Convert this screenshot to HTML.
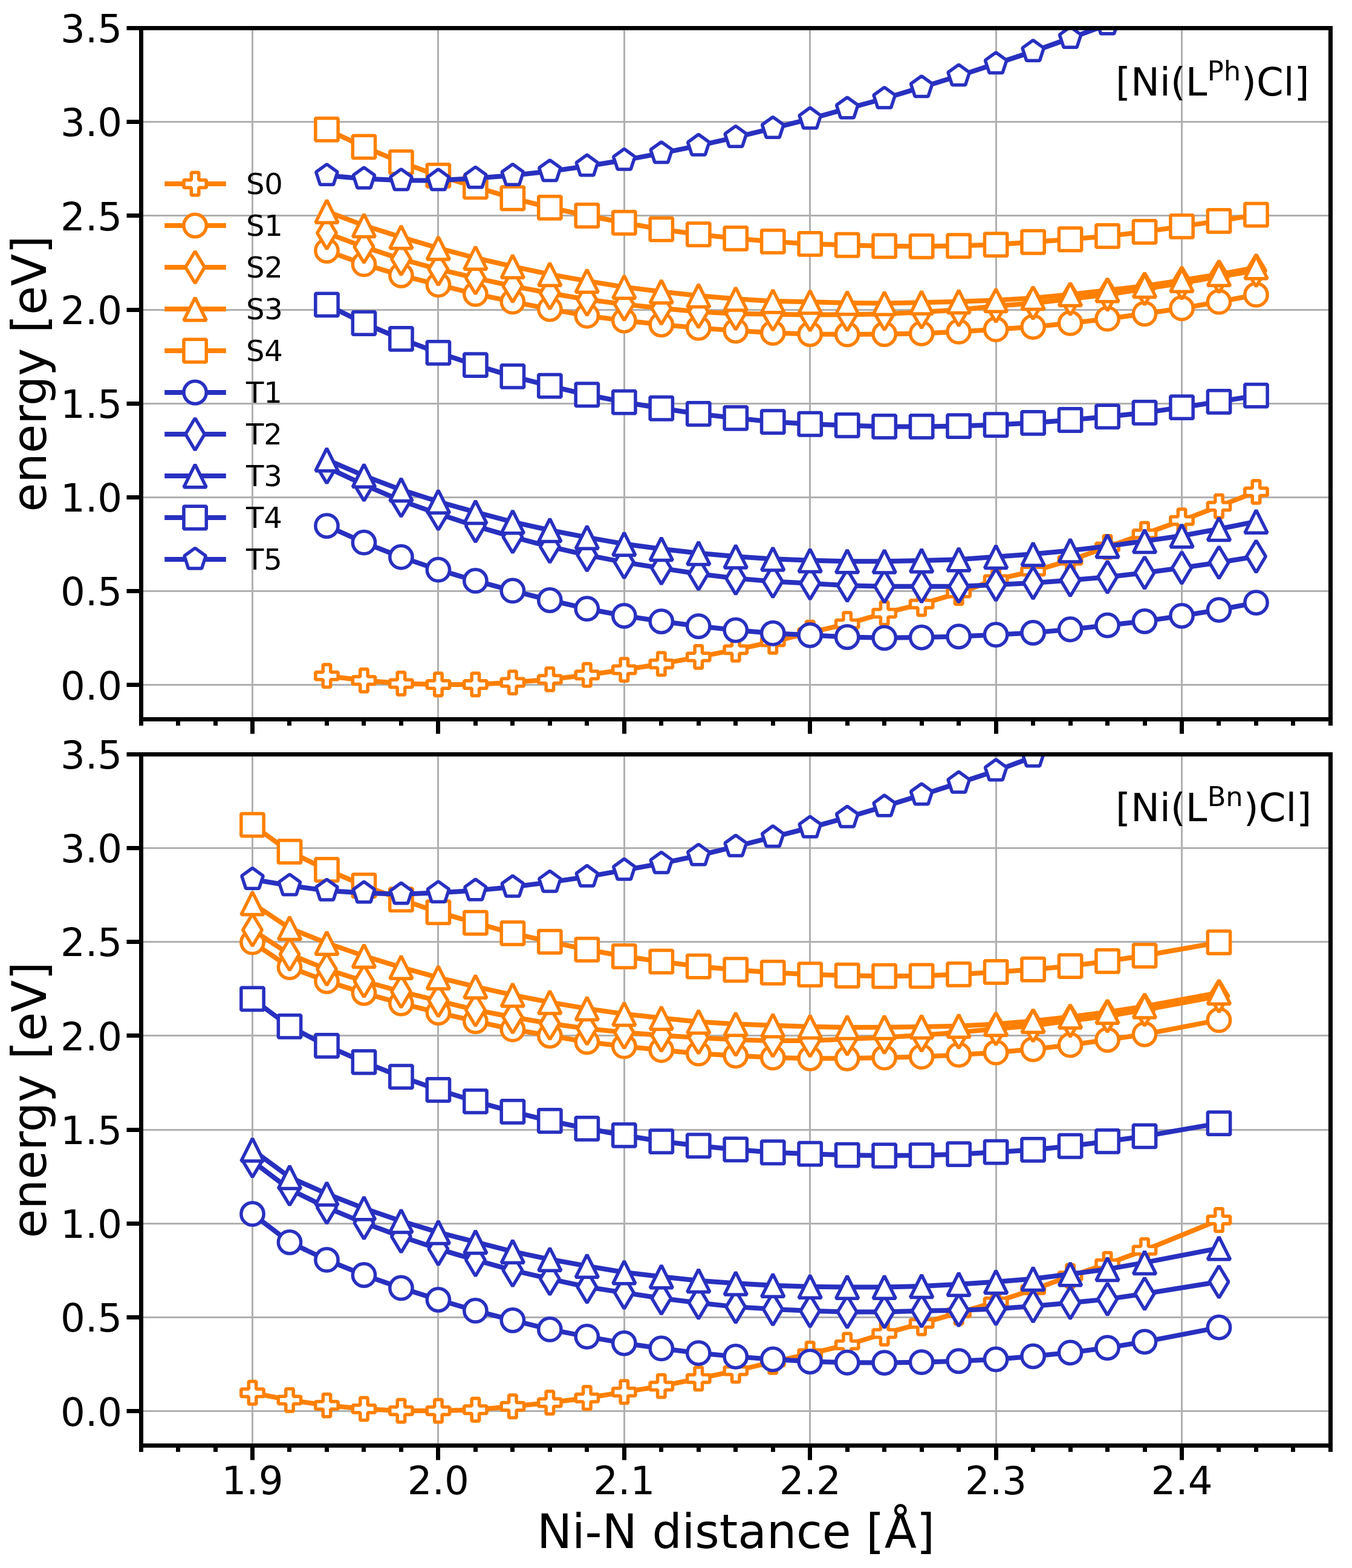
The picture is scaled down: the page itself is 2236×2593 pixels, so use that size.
<!DOCTYPE html>
<html><head><meta charset="utf-8"><title>Ni-N distance energy plot</title><style>html,body{margin:0;padding:0;background:#fff;}svg{display:block;}</style></head><body><svg width="2236" height="2593" viewBox="0 0 2236 2593"><rect x="0" y="0" width="2236" height="2593" fill="#fff"/><defs><clipPath id="clip_top"><rect x="233.5" y="46.5" width="1967" height="1143"/></clipPath><clipPath id="clip_bot"><rect x="233.5" y="1247.5" width="1967" height="1143"/></clipPath></defs><path clip-path="url(#clip_top)" stroke="#b0b0b0" stroke-width="3" fill="none" d="M417.5 46.5V1189.5M724.5 46.5V1189.5M1032.5 46.5V1189.5M1339.5 46.5V1189.5M1647.5 46.5V1189.5M1954.5 46.5V1189.5M233.5 1132.5H2200.5M233.5 977.5H2200.5M233.5 822.5H2200.5M233.5 667.5H2200.5M233.5 512.5H2200.5M233.5 356.5H2200.5M233.5 201.5H2200.5M233.5 46.5H2200.5"/><g clip-path="url(#clip_top)"><path fill="none" stroke="#ff8000" stroke-width="8" stroke-linejoin="round" stroke-linecap="square" d="M540.46 1117.66L601.94 1125.27L663.42 1130.36L724.9 1131.93L786.38 1131.93L847.86 1128.57L909.34 1123.45L970.82 1116.17L1032.3 1107.55L1093.78 1097.93L1155.26 1086.4L1216.74 1074.37L1278.22 1061.38L1339.7 1046.15L1401.18 1031.67L1462.66 1013.98L1524.14 998.87L1585.62 980.62L1647.1 958.34L1708.58 944.52L1770.06 926.61L1831.54 904.51L1893.02 882.87L1954.5 860.71L2015.98 837.24L2077.46 813.39"/><path fill="#fff" stroke="#ff8000" stroke-width="5.5" stroke-linejoin="bevel" d="M534.24 1099.01L546.68 1099.01L546.68 1111.44L559.11 1111.44L559.11 1123.87L546.68 1123.87L546.68 1136.31L534.24 1136.31L534.24 1123.87L521.81 1123.87L521.81 1111.44L534.24 1111.44ZM595.72 1106.62L608.16 1106.62L608.16 1119.05L620.59 1119.05L620.59 1131.48L608.16 1131.48L608.16 1143.92L595.72 1143.92L595.72 1131.48L583.29 1131.48L583.29 1119.05L595.72 1119.05ZM657.2 1111.71L669.64 1111.71L669.64 1124.14L682.07 1124.14L682.07 1136.58L669.64 1136.58L669.64 1149.01L657.2 1149.01L657.2 1136.58L644.77 1136.58L644.77 1124.14L657.2 1124.14ZM718.68 1113.28L731.12 1113.28L731.12 1125.71L743.55 1125.71L743.55 1138.14L731.12 1138.14L731.12 1150.58L718.68 1150.58L718.68 1138.14L706.25 1138.14L706.25 1125.71L718.68 1125.71ZM780.16 1113.28L792.6 1113.28L792.6 1125.71L805.03 1125.71L805.03 1138.14L792.6 1138.14L792.6 1150.58L780.16 1150.58L780.16 1138.14L767.73 1138.14L767.73 1125.71L780.16 1125.71ZM841.64 1109.92L854.08 1109.92L854.08 1122.35L866.51 1122.35L866.51 1134.79L854.08 1134.79L854.08 1147.22L841.64 1147.22L841.64 1134.79L829.21 1134.79L829.21 1122.35L841.64 1122.35ZM903.12 1104.8L915.56 1104.8L915.56 1117.23L927.99 1117.23L927.99 1129.66L915.56 1129.66L915.56 1142.1L903.12 1142.1L903.12 1129.66L890.69 1129.66L890.69 1117.23L903.12 1117.23ZM964.6 1097.52L977.04 1097.52L977.04 1109.96L989.47 1109.96L989.47 1122.39L977.04 1122.39L977.04 1134.82L964.6 1134.82L964.6 1122.39L952.17 1122.39L952.17 1109.96L964.6 1109.96ZM1026.08 1088.9L1038.52 1088.9L1038.52 1101.34L1050.95 1101.34L1050.95 1113.77L1038.52 1113.77L1038.52 1126.2L1026.08 1126.2L1026.08 1113.77L1013.65 1113.77L1013.65 1101.34L1026.08 1101.34ZM1087.56 1079.28L1100 1079.28L1100 1091.71L1112.43 1091.71L1112.43 1104.15L1100 1104.15L1100 1116.58L1087.56 1116.58L1087.56 1104.15L1075.13 1104.15L1075.13 1091.71L1087.56 1091.71ZM1149.04 1067.75L1161.48 1067.75L1161.48 1080.19L1173.91 1080.19L1173.91 1092.62L1161.48 1092.62L1161.48 1105.05L1149.04 1105.05L1149.04 1092.62L1136.61 1092.62L1136.61 1080.19L1149.04 1080.19ZM1210.52 1055.72L1222.96 1055.72L1222.96 1068.15L1235.39 1068.15L1235.39 1080.58L1222.96 1080.58L1222.96 1093.02L1210.52 1093.02L1210.52 1080.58L1198.09 1080.58L1198.09 1068.15L1210.52 1068.15ZM1272 1042.73L1284.44 1042.73L1284.44 1055.17L1296.87 1055.17L1296.87 1067.6L1284.44 1067.6L1284.44 1080.03L1272 1080.03L1272 1067.6L1259.57 1067.6L1259.57 1055.17L1272 1055.17ZM1333.48 1027.5L1345.92 1027.5L1345.92 1039.93L1358.35 1039.93L1358.35 1052.36L1345.92 1052.36L1345.92 1064.8L1333.48 1064.8L1333.48 1052.36L1321.05 1052.36L1321.05 1039.93L1333.48 1039.93ZM1394.96 1013.02L1407.4 1013.02L1407.4 1025.45L1419.83 1025.45L1419.83 1037.88L1407.4 1037.88L1407.4 1050.32L1394.96 1050.32L1394.96 1037.88L1382.53 1037.88L1382.53 1025.45L1394.96 1025.45ZM1456.44 995.33L1468.88 995.33L1468.88 1007.76L1481.31 1007.76L1481.31 1020.2L1468.88 1020.2L1468.88 1032.63L1456.44 1032.63L1456.44 1020.2L1444.01 1020.2L1444.01 1007.76L1456.44 1007.76ZM1517.92 980.22L1530.36 980.22L1530.36 992.65L1542.79 992.65L1542.79 1005.08L1530.36 1005.08L1530.36 1017.52L1517.92 1017.52L1517.92 1005.08L1505.49 1005.08L1505.49 992.65L1517.92 992.65ZM1579.4 961.97L1591.84 961.97L1591.84 974.41L1604.27 974.41L1604.27 986.84L1591.84 986.84L1591.84 999.27L1579.4 999.27L1579.4 986.84L1566.97 986.84L1566.97 974.41L1579.4 974.41ZM1640.88 939.69L1653.32 939.69L1653.32 952.13L1665.75 952.13L1665.75 964.56L1653.32 964.56L1653.32 976.99L1640.88 976.99L1640.88 964.56L1628.45 964.56L1628.45 952.13L1640.88 952.13ZM1702.36 925.87L1714.8 925.87L1714.8 938.3L1727.23 938.3L1727.23 950.74L1714.8 950.74L1714.8 963.17L1702.36 963.17L1702.36 950.74L1689.93 950.74L1689.93 938.3L1702.36 938.3ZM1763.84 907.96L1776.28 907.96L1776.28 920.4L1788.71 920.4L1788.71 932.83L1776.28 932.83L1776.28 945.26L1763.84 945.26L1763.84 932.83L1751.41 932.83L1751.41 920.4L1763.84 920.4ZM1825.32 885.86L1837.76 885.86L1837.76 898.3L1850.19 898.3L1850.19 910.73L1837.76 910.73L1837.76 923.16L1825.32 923.16L1825.32 910.73L1812.89 910.73L1812.89 898.3L1825.32 898.3ZM1886.8 864.22L1899.24 864.22L1899.24 876.66L1911.67 876.66L1911.67 889.09L1899.24 889.09L1899.24 901.52L1886.8 901.52L1886.8 889.09L1874.37 889.09L1874.37 876.66L1886.8 876.66ZM1948.28 842.06L1960.72 842.06L1960.72 854.5L1973.15 854.5L1973.15 866.93L1960.72 866.93L1960.72 879.36L1948.28 879.36L1948.28 866.93L1935.85 866.93L1935.85 854.5L1948.28 854.5ZM2009.76 818.59L2022.2 818.59L2022.2 831.02L2034.63 831.02L2034.63 843.45L2022.2 843.45L2022.2 855.89L2009.76 855.89L2009.76 843.45L1997.33 843.45L1997.33 831.02L2009.76 831.02ZM2071.24 794.74L2083.68 794.74L2083.68 807.17L2096.11 807.17L2096.11 819.6L2083.68 819.6L2083.68 832.04L2071.24 832.04L2071.24 819.6L2058.81 819.6L2058.81 807.17L2071.24 807.17Z"/><path fill="none" stroke="#ff8000" stroke-width="8" stroke-linejoin="round" stroke-linecap="square" d="M540.46 414.57L601.94 436.95L663.42 455.3L724.9 470.97L786.38 486.19L847.86 498.95L909.34 511.05L970.82 522.24L1032.3 530.07L1093.78 536.79L1155.26 542.38L1216.74 546.86L1278.22 550.46L1339.7 552.5L1401.18 552.95L1462.66 552.5L1524.14 551.38L1585.62 548.47L1647.1 544.65L1708.58 540.6L1770.06 534.45L1831.54 527.17L1893.02 518.79L1954.5 509.73L2015.98 499.21L2077.46 487.47"/><g fill="#fff" stroke="#ff8000" stroke-width="5.5"><circle cx="540.46" cy="414.57" r="18.65"/><circle cx="601.94" cy="436.95" r="18.65"/><circle cx="663.42" cy="455.3" r="18.65"/><circle cx="724.9" cy="470.97" r="18.65"/><circle cx="786.38" cy="486.19" r="18.65"/><circle cx="847.86" cy="498.95" r="18.65"/><circle cx="909.34" cy="511.05" r="18.65"/><circle cx="970.82" cy="522.24" r="18.65"/><circle cx="1032.3" cy="530.07" r="18.65"/><circle cx="1093.78" cy="536.79" r="18.65"/><circle cx="1155.26" cy="542.38" r="18.65"/><circle cx="1216.74" cy="546.86" r="18.65"/><circle cx="1278.22" cy="550.46" r="18.65"/><circle cx="1339.7" cy="552.5" r="18.65"/><circle cx="1401.18" cy="552.95" r="18.65"/><circle cx="1462.66" cy="552.5" r="18.65"/><circle cx="1524.14" cy="551.38" r="18.65"/><circle cx="1585.62" cy="548.47" r="18.65"/><circle cx="1647.1" cy="544.65" r="18.65"/><circle cx="1708.58" cy="540.6" r="18.65"/><circle cx="1770.06" cy="534.45" r="18.65"/><circle cx="1831.54" cy="527.17" r="18.65"/><circle cx="1893.02" cy="518.79" r="18.65"/><circle cx="1954.5" cy="509.73" r="18.65"/><circle cx="2015.98" cy="499.21" r="18.65"/><circle cx="2077.46" cy="487.47" r="18.65"/></g><path fill="none" stroke="#ff8000" stroke-width="8" stroke-linejoin="round" stroke-linecap="square" d="M540.46 385.38L601.94 408.21L663.42 428.36L724.9 445.15L786.38 459.7L847.86 473.13L909.34 484.77L970.82 495.29L1032.3 503.13L1093.78 509.84L1155.26 515.44L1216.74 518.8L1278.22 519.7L1339.7 520.6L1401.18 520.37L1462.66 519.25L1524.14 516.12L1585.62 512.43L1647.1 506.15L1708.58 501.22L1770.06 494.51L1831.54 487.12L1893.02 477.68L1954.5 468.16L2015.98 457.49L2077.46 447.41"/><path fill="#fff" stroke="#ff8000" stroke-width="5.5" stroke-linejoin="bevel" d="M540.46 359.01L556.29 385.38L540.46 411.76L524.63 385.38ZM601.94 381.84L617.77 408.21L601.94 434.59L586.11 408.21ZM663.42 401.98L679.25 428.36L663.42 454.73L647.59 428.36ZM724.9 418.77L740.73 445.15L724.9 471.52L709.07 445.15ZM786.38 433.32L802.21 459.7L786.38 486.07L770.55 459.7ZM847.86 446.75L863.69 473.13L847.86 499.5L832.03 473.13ZM909.34 458.4L925.17 484.77L909.34 511.15L893.51 484.77ZM970.82 468.92L986.65 495.29L970.82 521.67L954.99 495.29ZM1032.3 476.75L1048.13 503.13L1032.3 529.5L1016.47 503.13ZM1093.78 483.47L1109.61 509.84L1093.78 536.22L1077.95 509.84ZM1155.26 489.06L1171.09 515.44L1155.26 541.81L1139.43 515.44ZM1216.74 492.42L1232.57 518.8L1216.74 545.17L1200.91 518.8ZM1278.22 493.33L1294.05 519.7L1278.22 546.08L1262.39 519.7ZM1339.7 494.22L1355.53 520.6L1339.7 546.97L1323.87 520.6ZM1401.18 494L1417.01 520.37L1401.18 546.75L1385.35 520.37ZM1462.66 492.88L1478.49 519.25L1462.66 545.63L1446.83 519.25ZM1524.14 489.75L1539.97 516.12L1524.14 542.5L1508.31 516.12ZM1585.62 486.05L1601.45 512.43L1585.62 538.8L1569.79 512.43ZM1647.1 479.77L1662.93 506.15L1647.1 532.52L1631.27 506.15ZM1708.58 474.85L1724.41 501.22L1708.58 527.6L1692.75 501.22ZM1770.06 468.13L1785.89 494.51L1770.06 520.88L1754.23 494.51ZM1831.54 460.75L1847.37 487.12L1831.54 513.5L1815.71 487.12ZM1893.02 451.3L1908.85 477.68L1893.02 504.05L1877.19 477.68ZM1954.5 441.79L1970.33 468.16L1954.5 494.54L1938.67 468.16ZM2015.98 431.11L2031.81 457.49L2015.98 483.86L2000.15 457.49ZM2077.46 421.04L2093.29 447.41L2077.46 473.79L2061.63 447.41Z"/><path fill="none" stroke="#ff8000" stroke-width="8" stroke-linejoin="round" stroke-linecap="square" d="M540.46 349.62L601.94 372.79L663.42 392.15L724.9 410.28L786.38 426.51L847.86 440.72L909.34 453.71L970.82 464.68L1032.3 474.64L1093.78 482.25L1155.26 488.97L1216.74 494.34L1278.22 498.08L1339.7 499.31L1401.18 500.99L1462.66 501.55L1524.14 500.32L1585.62 498.75L1647.1 496.6L1708.58 492.88L1770.06 486.95L1831.54 480.01L1893.02 472.92L1954.5 463.57L2015.98 453.72L2077.46 442.21"/><path fill="#fff" stroke="#ff8000" stroke-width="5.5" stroke-linejoin="bevel" d="M540.46 330.97L559.11 368.27L521.81 368.27ZM601.94 354.14L620.59 391.44L583.29 391.44ZM663.42 373.5L682.07 410.8L644.77 410.8ZM724.9 391.63L743.55 428.93L706.25 428.93ZM786.38 407.86L805.03 445.16L767.73 445.16ZM847.86 422.07L866.51 459.37L829.21 459.37ZM909.34 435.06L927.99 472.36L890.69 472.36ZM970.82 446.03L989.47 483.33L952.17 483.33ZM1032.3 455.99L1050.95 493.29L1013.65 493.29ZM1093.78 463.6L1112.43 500.9L1075.13 500.9ZM1155.26 470.32L1173.91 507.62L1136.61 507.62ZM1216.74 475.69L1235.39 512.99L1198.09 512.99ZM1278.22 479.43L1296.87 516.73L1259.57 516.73ZM1339.7 480.66L1358.35 517.96L1321.05 517.96ZM1401.18 482.34L1419.83 519.64L1382.53 519.64ZM1462.66 482.9L1481.31 520.2L1444.01 520.2ZM1524.14 481.67L1542.79 518.97L1505.49 518.97ZM1585.62 480.1L1604.27 517.4L1566.97 517.4ZM1647.1 477.95L1665.75 515.25L1628.45 515.25ZM1708.58 474.23L1727.23 511.53L1689.93 511.53ZM1770.06 468.3L1788.71 505.6L1751.41 505.6ZM1831.54 461.36L1850.19 498.66L1812.89 498.66ZM1893.02 454.27L1911.67 491.57L1874.37 491.57ZM1954.5 444.92L1973.15 482.22L1935.85 482.22ZM2015.98 435.07L2034.63 472.37L1997.33 472.37ZM2077.46 423.56L2096.11 460.86L2058.81 460.86Z"/><path fill="none" stroke="#ff8000" stroke-width="8" stroke-linejoin="round" stroke-linecap="square" d="M540.46 214.13L601.94 242.89L663.42 268.3L724.9 290.46L786.38 308.93L847.86 327.73L909.34 343.4L970.82 356.5L1032.3 368.36L1093.78 379.22L1155.26 387.61L1216.74 394.33L1278.22 399.41L1339.7 403.37L1401.18 405.27L1462.66 406.95L1524.14 407.29L1585.62 406.61L1647.1 404.54L1708.58 400.23L1770.06 395.75L1831.54 390.38L1893.02 383.41L1954.5 374.35L2015.98 365.39L2077.46 355.18"/><path fill="#fff" stroke="#ff8000" stroke-width="5.5" stroke-linejoin="bevel" d="M521.81 195.48L559.11 195.48L559.11 232.78L521.81 232.78ZM583.29 224.24L620.59 224.24L620.59 261.54L583.29 261.54ZM644.77 249.65L682.07 249.65L682.07 286.95L644.77 286.95ZM706.25 271.81L743.55 271.81L743.55 309.11L706.25 309.11ZM767.73 290.28L805.03 290.28L805.03 327.58L767.73 327.58ZM829.21 309.08L866.51 309.08L866.51 346.38L829.21 346.38ZM890.69 324.75L927.99 324.75L927.99 362.05L890.69 362.05ZM952.17 337.85L989.47 337.85L989.47 375.15L952.17 375.15ZM1013.65 349.71L1050.95 349.71L1050.95 387.01L1013.65 387.01ZM1075.13 360.57L1112.43 360.57L1112.43 397.87L1075.13 397.87ZM1136.61 368.96L1173.91 368.96L1173.91 406.26L1136.61 406.26ZM1198.09 375.68L1235.39 375.68L1235.39 412.98L1198.09 412.98ZM1259.57 380.76L1296.87 380.76L1296.87 418.06L1259.57 418.06ZM1321.05 384.72L1358.35 384.72L1358.35 422.02L1321.05 422.02ZM1382.53 386.62L1419.83 386.62L1419.83 423.92L1382.53 423.92ZM1444.01 388.3L1481.31 388.3L1481.31 425.6L1444.01 425.6ZM1505.49 388.64L1542.79 388.64L1542.79 425.94L1505.49 425.94ZM1566.97 387.96L1604.27 387.96L1604.27 425.26L1566.97 425.26ZM1628.45 385.89L1665.75 385.89L1665.75 423.19L1628.45 423.19ZM1689.93 381.58L1727.23 381.58L1727.23 418.88L1689.93 418.88ZM1751.41 377.1L1788.71 377.1L1788.71 414.4L1751.41 414.4ZM1812.89 371.73L1850.19 371.73L1850.19 409.03L1812.89 409.03ZM1874.37 364.76L1911.67 364.76L1911.67 402.06L1874.37 402.06ZM1935.85 355.7L1973.15 355.7L1973.15 393L1935.85 393ZM1997.33 346.74L2034.63 346.74L2034.63 384.04L1997.33 384.04ZM2058.81 336.53L2096.11 336.53L2096.11 373.83L2058.81 373.83Z"/><path fill="none" stroke="#2830c0" stroke-width="8" stroke-linejoin="round" stroke-linecap="square" d="M540.46 869.53L601.94 897.17L663.42 921.24L724.9 942.17L786.38 960.41L847.86 976.97L909.34 992.5L970.82 1006.72L1032.3 1018.35L1093.78 1027.53L1155.26 1035.59L1216.74 1042.08L1278.22 1047.23L1339.7 1050.36L1401.18 1053.5L1462.66 1054.84L1524.14 1054.06L1585.62 1052.6L1647.1 1049.65L1708.58 1046.37L1770.06 1040.77L1831.54 1034.06L1893.02 1027.3L1954.5 1018.35L2015.98 1008.56L2077.46 996.6"/><g fill="#fff" stroke="#2830c0" stroke-width="5.5"><circle cx="540.46" cy="869.53" r="18.65"/><circle cx="601.94" cy="897.17" r="18.65"/><circle cx="663.42" cy="921.24" r="18.65"/><circle cx="724.9" cy="942.17" r="18.65"/><circle cx="786.38" cy="960.41" r="18.65"/><circle cx="847.86" cy="976.97" r="18.65"/><circle cx="909.34" cy="992.5" r="18.65"/><circle cx="970.82" cy="1006.72" r="18.65"/><circle cx="1032.3" cy="1018.35" r="18.65"/><circle cx="1093.78" cy="1027.53" r="18.65"/><circle cx="1155.26" cy="1035.59" r="18.65"/><circle cx="1216.74" cy="1042.08" r="18.65"/><circle cx="1278.22" cy="1047.23" r="18.65"/><circle cx="1339.7" cy="1050.36" r="18.65"/><circle cx="1401.18" cy="1053.5" r="18.65"/><circle cx="1462.66" cy="1054.84" r="18.65"/><circle cx="1524.14" cy="1054.06" r="18.65"/><circle cx="1585.62" cy="1052.6" r="18.65"/><circle cx="1647.1" cy="1049.65" r="18.65"/><circle cx="1708.58" cy="1046.37" r="18.65"/><circle cx="1770.06" cy="1040.77" r="18.65"/><circle cx="1831.54" cy="1034.06" r="18.65"/><circle cx="1893.02" cy="1027.3" r="18.65"/><circle cx="1954.5" cy="1018.35" r="18.65"/><circle cx="2015.98" cy="1008.56" r="18.65"/><circle cx="2077.46" cy="996.6" r="18.65"/></g><path fill="none" stroke="#2830c0" stroke-width="8" stroke-linejoin="round" stroke-linecap="square" d="M540.46 772.74L601.94 801.61L663.42 828.02L724.9 849.74L786.38 869.88L847.86 887.79L909.34 904.01L970.82 917.88L1032.3 929.75L1093.78 939.6L1155.26 949L1216.74 956.37L1278.22 961.52L1339.7 964.65L1401.18 968.23L1462.66 969.8L1524.14 969.8L1585.62 969.8L1647.1 966.96L1708.58 963.9L1770.06 959.42L1831.54 954.27L1893.02 947.3L1954.5 939.01L2015.98 930.28L2077.46 920.17"/><path fill="#fff" stroke="#2830c0" stroke-width="5.5" stroke-linejoin="bevel" d="M540.46 746.36L556.29 772.74L540.46 799.11L524.63 772.74ZM601.94 775.24L617.77 801.61L601.94 827.99L586.11 801.61ZM663.42 801.65L679.25 828.02L663.42 854.4L647.59 828.02ZM724.9 823.36L740.73 849.74L724.9 876.11L709.07 849.74ZM786.38 843.51L802.21 869.88L786.38 896.26L770.55 869.88ZM847.86 861.41L863.69 887.79L847.86 914.16L832.03 887.79ZM909.34 877.63L925.17 904.01L909.34 930.38L893.51 904.01ZM970.82 891.51L986.65 917.88L970.82 944.26L954.99 917.88ZM1032.3 903.37L1048.13 929.75L1032.3 956.12L1016.47 929.75ZM1093.78 913.22L1109.61 939.6L1093.78 965.97L1077.95 939.6ZM1155.26 922.62L1171.09 949L1155.26 975.37L1139.43 949ZM1216.74 929.99L1232.57 956.37L1216.74 982.74L1200.91 956.37ZM1278.22 935.14L1294.05 961.52L1278.22 987.89L1262.39 961.52ZM1339.7 938.27L1355.53 964.65L1339.7 991.02L1323.87 964.65ZM1401.18 941.86L1417.01 968.23L1401.18 994.61L1385.35 968.23ZM1462.66 943.42L1478.49 969.8L1462.66 996.17L1446.83 969.8ZM1524.14 943.42L1539.97 969.8L1524.14 996.17L1508.31 969.8ZM1585.62 943.42L1601.45 969.8L1585.62 996.17L1569.79 969.8ZM1647.1 940.59L1662.93 966.96L1647.1 993.34L1631.27 966.96ZM1708.58 937.52L1724.41 963.9L1708.58 990.27L1692.75 963.9ZM1770.06 933.05L1785.89 959.42L1770.06 985.8L1754.23 959.42ZM1831.54 927.9L1847.37 954.27L1831.54 980.65L1815.71 954.27ZM1893.02 920.92L1908.85 947.3L1893.02 973.67L1877.19 947.3ZM1954.5 912.64L1970.33 939.01L1954.5 965.39L1938.67 939.01ZM2015.98 903.91L2031.81 930.28L2015.98 956.66L2000.15 930.28ZM2077.46 893.8L2093.29 920.17L2077.46 946.55L2061.63 920.17Z"/><path fill="none" stroke="#2830c0" stroke-width="8" stroke-linejoin="round" stroke-linecap="square" d="M540.46 760.14L601.94 786.69L663.42 809.92L724.9 829.53L786.38 846.88L847.86 863.11L909.34 876.75L970.82 888.56L1032.3 899.58L1093.78 907.81L1155.26 914.8L1216.74 920.34L1278.22 924.3L1339.7 926.76L1401.18 928.22L1462.66 928.33L1524.14 926.99L1585.62 925.2L1647.1 920.85L1708.58 916.28L1770.06 910.46L1831.54 903.18L1893.02 894.8L1954.5 886.02L2015.98 874.77L2077.46 862.48"/><path fill="#fff" stroke="#2830c0" stroke-width="5.5" stroke-linejoin="bevel" d="M540.46 741.49L559.11 778.79L521.81 778.79ZM601.94 768.04L620.59 805.34L583.29 805.34ZM663.42 791.27L682.07 828.57L644.77 828.57ZM724.9 810.88L743.55 848.18L706.25 848.18ZM786.38 828.23L805.03 865.53L767.73 865.53ZM847.86 844.46L866.51 881.76L829.21 881.76ZM909.34 858.1L927.99 895.4L890.69 895.4ZM970.82 869.91L989.47 907.21L952.17 907.21ZM1032.3 880.93L1050.95 918.23L1013.65 918.23ZM1093.78 889.16L1112.43 926.46L1075.13 926.46ZM1155.26 896.15L1173.91 933.45L1136.61 933.45ZM1216.74 901.69L1235.39 938.99L1198.09 938.99ZM1278.22 905.65L1296.87 942.95L1259.57 942.95ZM1339.7 908.11L1358.35 945.41L1321.05 945.41ZM1401.18 909.57L1419.83 946.87L1382.53 946.87ZM1462.66 909.68L1481.31 946.98L1444.01 946.98ZM1524.14 908.34L1542.79 945.64L1505.49 945.64ZM1585.62 906.55L1604.27 943.85L1566.97 943.85ZM1647.1 902.2L1665.75 939.5L1628.45 939.5ZM1708.58 897.63L1727.23 934.93L1689.93 934.93ZM1770.06 891.81L1788.71 929.11L1751.41 929.11ZM1831.54 884.53L1850.19 921.83L1812.89 921.83ZM1893.02 876.15L1911.67 913.45L1874.37 913.45ZM1954.5 867.37L1973.15 904.67L1935.85 904.67ZM2015.98 856.12L2034.63 893.42L1997.33 893.42ZM2077.46 843.83L2096.11 881.13L2058.81 881.13Z"/><path fill="none" stroke="#2830c0" stroke-width="8" stroke-linejoin="round" stroke-linecap="square" d="M540.46 503.95L601.94 534.5L663.42 560.46L724.9 583.3L786.38 603.67L847.86 622.36L909.34 638.2L970.82 652.75L1032.3 665.06L1093.78 675.24L1155.26 684.42L1216.74 691.36L1278.22 697.57L1339.7 701.25L1401.18 703.38L1462.66 705.39L1524.14 705.39L1585.62 704.61L1647.1 702.57L1708.58 699.31L1770.06 694.49L1831.54 688.9L1893.02 682.41L1954.5 673.69L2015.98 664.29L2077.46 654.22"/><path fill="#fff" stroke="#2830c0" stroke-width="5.5" stroke-linejoin="bevel" d="M521.81 485.3L559.11 485.3L559.11 522.6L521.81 522.6ZM583.29 515.85L620.59 515.85L620.59 553.15L583.29 553.15ZM644.77 541.81L682.07 541.81L682.07 579.11L644.77 579.11ZM706.25 564.65L743.55 564.65L743.55 601.95L706.25 601.95ZM767.73 585.02L805.03 585.02L805.03 622.32L767.73 622.32ZM829.21 603.71L866.51 603.71L866.51 641.01L829.21 641.01ZM890.69 619.55L927.99 619.55L927.99 656.85L890.69 656.85ZM952.17 634.1L989.47 634.1L989.47 671.4L952.17 671.4ZM1013.65 646.41L1050.95 646.41L1050.95 683.71L1013.65 683.71ZM1075.13 656.59L1112.43 656.59L1112.43 693.89L1075.13 693.89ZM1136.61 665.77L1173.91 665.77L1173.91 703.07L1136.61 703.07ZM1198.09 672.71L1235.39 672.71L1235.39 710.01L1198.09 710.01ZM1259.57 678.92L1296.87 678.92L1296.87 716.22L1259.57 716.22ZM1321.05 682.6L1358.35 682.6L1358.35 719.9L1321.05 719.9ZM1382.53 684.73L1419.83 684.73L1419.83 722.03L1382.53 722.03ZM1444.01 686.74L1481.31 686.74L1481.31 724.04L1444.01 724.04ZM1505.49 686.74L1542.79 686.74L1542.79 724.04L1505.49 724.04ZM1566.97 685.96L1604.27 685.96L1604.27 723.26L1566.97 723.26ZM1628.45 683.92L1665.75 683.92L1665.75 721.22L1628.45 721.22ZM1689.93 680.66L1727.23 680.66L1727.23 717.96L1689.93 717.96ZM1751.41 675.84L1788.71 675.84L1788.71 713.14L1751.41 713.14ZM1812.89 670.25L1850.19 670.25L1850.19 707.55L1812.89 707.55ZM1874.37 663.76L1911.67 663.76L1911.67 701.06L1874.37 701.06ZM1935.85 655.04L1973.15 655.04L1973.15 692.34L1935.85 692.34ZM1997.33 645.64L2034.63 645.64L2034.63 682.94L1997.33 682.94ZM2058.81 635.57L2096.11 635.57L2096.11 672.87L2058.81 672.87Z"/><path fill="none" stroke="#2830c0" stroke-width="8" stroke-linejoin="round" stroke-linecap="square" d="M540.46 290.28L601.94 295.54L663.42 298.34L724.9 298.45L786.38 294.76L847.86 290.06L909.34 283.35L970.82 274.73L1032.3 264.88L1093.78 253.35L1155.26 240.93L1216.74 227.05L1278.22 212.08L1339.7 196.7L1401.18 179.57L1462.66 163.01L1524.14 144.32L1585.62 125.52L1647.1 105.41L1708.58 85.11L1770.06 63.14L1831.54 40.75L1893.02 17.96L1954.5 -5.25L2015.98 -28.86L2077.46 -52.88"/><path fill="#fff" stroke="#2830c0" stroke-width="5.5" stroke-linejoin="bevel" d="M540.46 271.63L522.72 284.52L529.5 305.37L551.42 305.37L558.2 284.52ZM601.94 276.89L584.2 289.78L590.98 310.63L612.9 310.63L619.68 289.78ZM663.42 279.69L645.68 292.58L652.46 313.43L674.38 313.43L681.16 292.58ZM724.9 279.8L707.16 292.69L713.94 313.54L735.86 313.54L742.64 292.69ZM786.38 276.11L768.64 288.99L775.42 309.85L797.34 309.85L804.12 288.99ZM847.86 271.41L830.12 284.29L836.9 305.14L858.82 305.14L865.6 284.29ZM909.34 264.7L891.6 277.58L898.38 298.43L920.3 298.43L927.08 277.58ZM970.82 256.08L953.08 268.97L959.86 289.82L981.78 289.82L988.56 268.97ZM1032.3 246.23L1014.56 259.12L1021.34 279.97L1043.26 279.97L1050.04 259.12ZM1093.78 234.7L1076.04 247.59L1082.82 268.44L1104.74 268.44L1111.52 247.59ZM1155.26 222.28L1137.52 235.17L1144.3 256.02L1166.22 256.02L1173 235.17ZM1216.74 208.4L1199 221.29L1205.78 242.14L1227.7 242.14L1234.48 221.29ZM1278.22 193.43L1260.48 206.32L1267.26 227.17L1289.18 227.17L1295.96 206.32ZM1339.7 178.05L1321.96 190.94L1328.74 211.79L1350.66 211.79L1357.44 190.94ZM1401.18 160.92L1383.44 173.81L1390.22 194.66L1412.14 194.66L1418.92 173.81ZM1462.66 144.36L1444.92 157.25L1451.7 178.1L1473.62 178.1L1480.4 157.25ZM1524.14 125.67L1506.4 138.56L1513.18 159.41L1535.1 159.41L1541.88 138.56ZM1585.62 106.87L1567.88 119.75L1574.66 140.61L1596.58 140.61L1603.36 119.75ZM1647.1 86.76L1629.36 99.64L1636.14 120.49L1658.06 120.49L1664.84 99.64ZM1708.58 66.46L1690.84 79.35L1697.62 100.2L1719.54 100.2L1726.32 79.35ZM1770.06 44.49L1752.32 57.37L1759.1 78.22L1781.02 78.22L1787.8 57.37ZM1831.54 22.1L1813.8 34.99L1820.58 55.84L1842.5 55.84L1849.28 34.99ZM1893.02 -0.69L1875.28 12.19L1882.06 33.05L1903.98 33.05L1910.76 12.19ZM1954.5 -23.9L1936.76 -11.01L1943.54 9.84L1965.46 9.84L1972.24 -11.01ZM2015.98 -47.51L1998.24 -34.62L2005.02 -13.77L2026.94 -13.77L2033.72 -34.62ZM2077.46 -71.53L2059.72 -58.64L2066.5 -37.79L2088.42 -37.79L2095.2 -58.64Z"/></g><path stroke="#000" stroke-width="7" fill="none" d="M233.5 1132.5H209.5M233.5 977.5H209.5M233.5 822.5H209.5M233.5 667.5H209.5M233.5 512.5H209.5M233.5 356.5H209.5M233.5 201.5H209.5M233.5 46.5H209.5M417.5 1189.5V1213.5M724.5 1189.5V1213.5M1032.5 1189.5V1213.5M1339.5 1189.5V1213.5M1647.5 1189.5V1213.5M1954.5 1189.5V1213.5M233.5 1189.5V1199.9M294.5 1189.5V1199.9M356.5 1189.5V1199.9M478.5 1189.5V1199.9M540.5 1189.5V1199.9M601.5 1189.5V1199.9M663.5 1189.5V1199.9M786.5 1189.5V1199.9M847.5 1189.5V1199.9M909.5 1189.5V1199.9M970.5 1189.5V1199.9M1093.5 1189.5V1199.9M1155.5 1189.5V1199.9M1216.5 1189.5V1199.9M1278.5 1189.5V1199.9M1401.5 1189.5V1199.9M1462.5 1189.5V1199.9M1524.5 1189.5V1199.9M1585.5 1189.5V1199.9M1708.5 1189.5V1199.9M1770.5 1189.5V1199.9M1831.5 1189.5V1199.9M1893.5 1189.5V1199.9M2015.5 1189.5V1199.9M2077.5 1189.5V1199.9M2138.5 1189.5V1199.9M2200.5 1189.5V1199.9"/><rect x="233.5" y="46.5" width="1967" height="1143" fill="none" stroke="#000" stroke-width="7" stroke-linejoin="miter"/><g font-family="'DejaVu Sans', 'Liberation Sans', sans-serif" font-size="64.2" text-anchor="end" fill="#000"><text x="202.2" y="1156.6">0.0</text><text x="202.2" y="1001.4">0.5</text><text x="202.2" y="846.2">1.0</text><text x="202.2" y="691">1.5</text><text x="202.2" y="535.8">2.0</text><text x="202.2" y="380.6">2.5</text><text x="202.2" y="225.4">3.0</text><text x="202.2" y="70.2">3.5</text></g><text font-family="'DejaVu Sans', 'Liberation Sans', sans-serif" font-size="77.7" text-anchor="middle" transform="translate(75.8 618) rotate(-90)">energy [eV]</text><path clip-path="url(#clip_bot)" stroke="#b0b0b0" stroke-width="3" fill="none" d="M417.5 1247.5V2390.5M724.5 1247.5V2390.5M1032.5 1247.5V2390.5M1339.5 1247.5V2390.5M1647.5 1247.5V2390.5M1954.5 1247.5V2390.5M233.5 2333.5H2200.5M233.5 2178.5H2200.5M233.5 2023.5H2200.5M233.5 1868.5H2200.5M233.5 1712.5H2200.5M233.5 1557.5H2200.5M233.5 1402.5H2200.5M233.5 1247.5H2200.5"/><g clip-path="url(#clip_bot)"><path fill="none" stroke="#ff8000" stroke-width="8" stroke-linejoin="round" stroke-linecap="square" d="M417.5 2303.26L478.98 2315.34L540.46 2324.07L601.94 2329.89L663.42 2333.03L724.9 2333.03L786.38 2331.24L847.86 2325.75L909.34 2319.49L970.82 2311.76L1032.3 2301.91L1093.78 2292.18L1155.26 2279.75L1216.74 2266.82L1278.22 2252.27L1339.7 2238.51L1401.18 2223.97L1462.66 2205.27L1524.14 2188.45L1585.62 2170.96L1647.1 2152.89L1708.58 2132.75L1770.06 2110.2L1831.54 2090.05L1893.02 2067.5L2015.98 2017.52"/><path fill="#fff" stroke="#ff8000" stroke-width="5.5" stroke-linejoin="bevel" d="M411.28 2284.61L423.72 2284.61L423.72 2297.04L436.15 2297.04L436.15 2309.47L423.72 2309.47L423.72 2321.91L411.28 2321.91L411.28 2309.47L398.85 2309.47L398.85 2297.04L411.28 2297.04ZM472.76 2296.69L485.2 2296.69L485.2 2309.13L497.63 2309.13L497.63 2321.56L485.2 2321.56L485.2 2333.99L472.76 2333.99L472.76 2321.56L460.33 2321.56L460.33 2309.13L472.76 2309.13ZM534.24 2305.42L546.68 2305.42L546.68 2317.86L559.11 2317.86L559.11 2330.29L546.68 2330.29L546.68 2342.72L534.24 2342.72L534.24 2330.29L521.81 2330.29L521.81 2317.86L534.24 2317.86ZM595.72 2311.24L608.16 2311.24L608.16 2323.68L620.59 2323.68L620.59 2336.11L608.16 2336.11L608.16 2348.54L595.72 2348.54L595.72 2336.11L583.29 2336.11L583.29 2323.68L595.72 2323.68ZM657.2 2314.38L669.64 2314.38L669.64 2326.81L682.07 2326.81L682.07 2339.24L669.64 2339.24L669.64 2351.68L657.2 2351.68L657.2 2339.24L644.77 2339.24L644.77 2326.81L657.2 2326.81ZM718.68 2314.38L731.12 2314.38L731.12 2326.81L743.55 2326.81L743.55 2339.24L731.12 2339.24L731.12 2351.68L718.68 2351.68L718.68 2339.24L706.25 2339.24L706.25 2326.81L718.68 2326.81ZM780.16 2312.59L792.6 2312.59L792.6 2325.02L805.03 2325.02L805.03 2337.45L792.6 2337.45L792.6 2349.89L780.16 2349.89L780.16 2337.45L767.73 2337.45L767.73 2325.02L780.16 2325.02ZM841.64 2307.1L854.08 2307.1L854.08 2319.54L866.51 2319.54L866.51 2331.97L854.08 2331.97L854.08 2344.4L841.64 2344.4L841.64 2331.97L829.21 2331.97L829.21 2319.54L841.64 2319.54ZM903.12 2300.84L915.56 2300.84L915.56 2313.27L927.99 2313.27L927.99 2325.7L915.56 2325.7L915.56 2338.14L903.12 2338.14L903.12 2325.7L890.69 2325.7L890.69 2313.27L903.12 2313.27ZM964.6 2293.11L977.04 2293.11L977.04 2305.55L989.47 2305.55L989.47 2317.98L977.04 2317.98L977.04 2330.41L964.6 2330.41L964.6 2317.98L952.17 2317.98L952.17 2305.55L964.6 2305.55ZM1026.08 2283.26L1038.52 2283.26L1038.52 2295.7L1050.95 2295.7L1050.95 2308.13L1038.52 2308.13L1038.52 2320.56L1026.08 2320.56L1026.08 2308.13L1013.65 2308.13L1013.65 2295.7L1026.08 2295.7ZM1087.56 2273.53L1100 2273.53L1100 2285.96L1112.43 2285.96L1112.43 2298.39L1100 2298.39L1100 2310.83L1087.56 2310.83L1087.56 2298.39L1075.13 2298.39L1075.13 2285.96L1087.56 2285.96ZM1149.04 2261.1L1161.48 2261.1L1161.48 2273.54L1173.91 2273.54L1173.91 2285.97L1161.48 2285.97L1161.48 2298.4L1149.04 2298.4L1149.04 2285.97L1136.61 2285.97L1136.61 2273.54L1149.04 2273.54ZM1210.52 2248.17L1222.96 2248.17L1222.96 2260.61L1235.39 2260.61L1235.39 2273.04L1222.96 2273.04L1222.96 2285.47L1210.52 2285.47L1210.52 2273.04L1198.09 2273.04L1198.09 2260.61L1210.52 2260.61ZM1272 2233.62L1284.44 2233.62L1284.44 2246.06L1296.87 2246.06L1296.87 2258.49L1284.44 2258.49L1284.44 2270.92L1272 2270.92L1272 2258.49L1259.57 2258.49L1259.57 2246.06L1272 2246.06ZM1333.48 2219.86L1345.92 2219.86L1345.92 2232.3L1358.35 2232.3L1358.35 2244.73L1345.92 2244.73L1345.92 2257.16L1333.48 2257.16L1333.48 2244.73L1321.05 2244.73L1321.05 2232.3L1333.48 2232.3ZM1394.96 2205.32L1407.4 2205.32L1407.4 2217.75L1419.83 2217.75L1419.83 2230.18L1407.4 2230.18L1407.4 2242.62L1394.96 2242.62L1394.96 2230.18L1382.53 2230.18L1382.53 2217.75L1394.96 2217.75ZM1456.44 2186.62L1468.88 2186.62L1468.88 2199.05L1481.31 2199.05L1481.31 2211.48L1468.88 2211.48L1468.88 2223.92L1456.44 2223.92L1456.44 2211.48L1444.01 2211.48L1444.01 2199.05L1456.44 2199.05ZM1517.92 2169.8L1530.36 2169.8L1530.36 2182.24L1542.79 2182.24L1542.79 2194.67L1530.36 2194.67L1530.36 2207.1L1517.92 2207.1L1517.92 2194.67L1505.49 2194.67L1505.49 2182.24L1517.92 2182.24ZM1579.4 2152.31L1591.84 2152.31L1591.84 2164.75L1604.27 2164.75L1604.27 2177.18L1591.84 2177.18L1591.84 2189.61L1579.4 2189.61L1579.4 2177.18L1566.97 2177.18L1566.97 2164.75L1579.4 2164.75ZM1640.88 2134.24L1653.32 2134.24L1653.32 2146.68L1665.75 2146.68L1665.75 2159.11L1653.32 2159.11L1653.32 2171.54L1640.88 2171.54L1640.88 2159.11L1628.45 2159.11L1628.45 2146.68L1640.88 2146.68ZM1702.36 2114.1L1714.8 2114.1L1714.8 2126.53L1727.23 2126.53L1727.23 2138.96L1714.8 2138.96L1714.8 2151.4L1702.36 2151.4L1702.36 2138.96L1689.93 2138.96L1689.93 2126.53L1702.36 2126.53ZM1763.84 2091.55L1776.28 2091.55L1776.28 2103.98L1788.71 2103.98L1788.71 2116.42L1776.28 2116.42L1776.28 2128.85L1763.84 2128.85L1763.84 2116.42L1751.41 2116.42L1751.41 2103.98L1763.84 2103.98ZM1825.32 2071.4L1837.76 2071.4L1837.76 2083.84L1850.19 2083.84L1850.19 2096.27L1837.76 2096.27L1837.76 2108.7L1825.32 2108.7L1825.32 2096.27L1812.89 2096.27L1812.89 2083.84L1825.32 2083.84ZM1886.8 2048.85L1899.24 2048.85L1899.24 2061.28L1911.67 2061.28L1911.67 2073.71L1899.24 2073.71L1899.24 2086.15L1886.8 2086.15L1886.8 2073.71L1874.37 2073.71L1874.37 2061.28L1886.8 2061.28ZM2009.76 1998.87L2022.2 1998.87L2022.2 2011.3L2034.63 2011.3L2034.63 2023.73L2022.2 2023.73L2022.2 2036.17L2009.76 2036.17L2009.76 2023.73L1997.33 2023.73L1997.33 2011.3L2009.76 2011.3Z"/><path fill="none" stroke="#ff8000" stroke-width="8" stroke-linejoin="round" stroke-linecap="square" d="M417.5 1558.15L478.98 1599.56L540.46 1622.62L601.94 1642.09L663.42 1659.33L724.9 1674.55L786.38 1688.81L847.86 1702.24L909.34 1712.76L970.82 1723.06L1032.3 1730.22L1093.78 1736.49L1155.26 1742.2L1216.74 1745.79L1278.22 1748.92L1339.7 1750.26L1401.18 1750.26L1462.66 1748.92L1524.14 1747.43L1585.62 1744.38L1647.1 1740.46L1708.58 1735.09L1770.06 1728.15L1831.54 1719.53L1893.02 1710.32L2015.98 1686.91"/><g fill="#fff" stroke="#ff8000" stroke-width="5.5"><circle cx="417.5" cy="1558.15" r="18.65"/><circle cx="478.98" cy="1599.56" r="18.65"/><circle cx="540.46" cy="1622.62" r="18.65"/><circle cx="601.94" cy="1642.09" r="18.65"/><circle cx="663.42" cy="1659.33" r="18.65"/><circle cx="724.9" cy="1674.55" r="18.65"/><circle cx="786.38" cy="1688.81" r="18.65"/><circle cx="847.86" cy="1702.24" r="18.65"/><circle cx="909.34" cy="1712.76" r="18.65"/><circle cx="970.82" cy="1723.06" r="18.65"/><circle cx="1032.3" cy="1730.22" r="18.65"/><circle cx="1093.78" cy="1736.49" r="18.65"/><circle cx="1155.26" cy="1742.2" r="18.65"/><circle cx="1216.74" cy="1745.79" r="18.65"/><circle cx="1278.22" cy="1748.92" r="18.65"/><circle cx="1339.7" cy="1750.26" r="18.65"/><circle cx="1401.18" cy="1750.26" r="18.65"/><circle cx="1462.66" cy="1748.92" r="18.65"/><circle cx="1524.14" cy="1747.43" r="18.65"/><circle cx="1585.62" cy="1744.38" r="18.65"/><circle cx="1647.1" cy="1740.46" r="18.65"/><circle cx="1708.58" cy="1735.09" r="18.65"/><circle cx="1770.06" cy="1728.15" r="18.65"/><circle cx="1831.54" cy="1719.53" r="18.65"/><circle cx="1893.02" cy="1710.32" r="18.65"/><circle cx="2015.98" cy="1686.91" r="18.65"/></g><path fill="none" stroke="#ff8000" stroke-width="8" stroke-linejoin="round" stroke-linecap="square" d="M417.5 1537.92L478.98 1578.21L540.46 1602.84L601.94 1622.53L663.42 1639.77L724.9 1654.77L786.38 1670.14L847.86 1682.01L909.34 1692.53L970.82 1701.03L1032.3 1707.3L1093.78 1712.23L1155.26 1715.93L1216.74 1719.29L1278.22 1721.08L1339.7 1721.08L1401.18 1718.17L1462.66 1715.48L1524.14 1712.09L1585.62 1707.12L1647.1 1701.53L1708.58 1695.93L1770.06 1688.1L1831.54 1680.26L1893.02 1669.99L2015.98 1647.41"/><path fill="#fff" stroke="#ff8000" stroke-width="5.5" stroke-linejoin="bevel" d="M417.5 1511.55L433.33 1537.92L417.5 1564.3L401.67 1537.92ZM478.98 1551.84L494.81 1578.21L478.98 1604.59L463.15 1578.21ZM540.46 1576.46L556.29 1602.84L540.46 1629.21L524.63 1602.84ZM601.94 1596.16L617.77 1622.53L601.94 1648.91L586.11 1622.53ZM663.42 1613.39L679.25 1639.77L663.42 1666.14L647.59 1639.77ZM724.9 1628.39L740.73 1654.77L724.9 1681.14L709.07 1654.77ZM786.38 1643.77L802.21 1670.14L786.38 1696.52L770.55 1670.14ZM847.86 1655.63L863.69 1682.01L847.86 1708.38L832.03 1682.01ZM909.34 1666.15L925.17 1692.53L909.34 1718.9L893.51 1692.53ZM970.82 1674.66L986.65 1701.03L970.82 1727.41L954.99 1701.03ZM1032.3 1680.93L1048.13 1707.3L1032.3 1733.68L1016.47 1707.3ZM1093.78 1685.85L1109.61 1712.23L1093.78 1738.6L1077.95 1712.23ZM1155.26 1689.56L1171.09 1715.93L1155.26 1742.31L1139.43 1715.93ZM1216.74 1692.91L1232.57 1719.29L1216.74 1745.66L1200.91 1719.29ZM1278.22 1694.7L1294.05 1721.08L1278.22 1747.45L1262.39 1721.08ZM1339.7 1694.7L1355.53 1721.08L1339.7 1747.45L1323.87 1721.08ZM1401.18 1691.79L1417.01 1718.17L1401.18 1744.54L1385.35 1718.17ZM1462.66 1689.11L1478.49 1715.48L1462.66 1741.86L1446.83 1715.48ZM1524.14 1685.71L1539.97 1712.09L1524.14 1738.46L1508.31 1712.09ZM1585.62 1680.75L1601.45 1707.12L1585.62 1733.5L1569.79 1707.12ZM1647.1 1675.15L1662.93 1701.53L1647.1 1727.9L1631.27 1701.53ZM1708.58 1669.56L1724.41 1695.93L1708.58 1722.31L1692.75 1695.93ZM1770.06 1661.72L1785.89 1688.1L1770.06 1714.47L1754.23 1688.1ZM1831.54 1653.89L1847.37 1680.26L1831.54 1706.64L1815.71 1680.26ZM1893.02 1643.62L1908.85 1669.99L1893.02 1696.37L1877.19 1669.99ZM2015.98 1621.04L2031.81 1647.41L2015.98 1673.79L2000.15 1647.41Z"/><path fill="none" stroke="#ff8000" stroke-width="8" stroke-linejoin="round" stroke-linecap="square" d="M417.5 1493.77L478.98 1534.95L540.46 1559.58L601.94 1580.84L663.42 1599.64L724.9 1616.66L786.38 1631.59L847.86 1645.46L909.34 1657.44L970.82 1667.85L1032.3 1676.8L1093.78 1683.52L1155.26 1689.73L1216.74 1693.6L1278.22 1695.84L1339.7 1697.85L1401.18 1698.97L1462.66 1698.75L1524.14 1697.93L1585.62 1696.66L1647.1 1693.52L1708.58 1688.49L1770.06 1681.43L1831.54 1673.6L1893.02 1664.23L2015.98 1641.65"/><path fill="#fff" stroke="#ff8000" stroke-width="5.5" stroke-linejoin="bevel" d="M417.5 1475.12L436.15 1512.42L398.85 1512.42ZM478.98 1516.3L497.63 1553.6L460.33 1553.6ZM540.46 1540.93L559.11 1578.23L521.81 1578.23ZM601.94 1562.19L620.59 1599.49L583.29 1599.49ZM663.42 1580.99L682.07 1618.29L644.77 1618.29ZM724.9 1598.01L743.55 1635.31L706.25 1635.31ZM786.38 1612.94L805.03 1650.24L767.73 1650.24ZM847.86 1626.81L866.51 1664.11L829.21 1664.11ZM909.34 1638.79L927.99 1676.09L890.69 1676.09ZM970.82 1649.2L989.47 1686.5L952.17 1686.5ZM1032.3 1658.15L1050.95 1695.45L1013.65 1695.45ZM1093.78 1664.87L1112.43 1702.17L1075.13 1702.17ZM1155.26 1671.08L1173.91 1708.38L1136.61 1708.38ZM1216.74 1674.95L1235.39 1712.25L1198.09 1712.25ZM1278.22 1677.19L1296.87 1714.49L1259.57 1714.49ZM1339.7 1679.2L1358.35 1716.5L1321.05 1716.5ZM1401.18 1680.32L1419.83 1717.62L1382.53 1717.62ZM1462.66 1680.1L1481.31 1717.4L1444.01 1717.4ZM1524.14 1679.28L1542.79 1716.58L1505.49 1716.58ZM1585.62 1678.01L1604.27 1715.31L1566.97 1715.31ZM1647.1 1674.87L1665.75 1712.17L1628.45 1712.17ZM1708.58 1669.84L1727.23 1707.14L1689.93 1707.14ZM1770.06 1662.78L1788.71 1700.08L1751.41 1700.08ZM1831.54 1654.95L1850.19 1692.25L1812.89 1692.25ZM1893.02 1645.58L1911.67 1682.88L1874.37 1682.88ZM2015.98 1623L2034.63 1660.3L1997.33 1660.3Z"/><path fill="none" stroke="#ff8000" stroke-width="8" stroke-linejoin="round" stroke-linecap="square" d="M417.5 1364.21L478.98 1408.42L540.46 1438.3L601.94 1464.49L663.42 1487.54L724.9 1508.58L786.38 1526.18L847.86 1543.44L909.34 1557.31L970.82 1570.41L1032.3 1581.49L1093.78 1590.22L1155.26 1598.15L1216.74 1603.74L1278.22 1608.33L1339.7 1611.57L1401.18 1613.25L1462.66 1614.15L1524.14 1613.81L1585.62 1611.35L1647.1 1607.43L1708.58 1603.18L1770.06 1597.58L1831.54 1589.41L1893.02 1580.3L2015.98 1558.42"/><path fill="#fff" stroke="#ff8000" stroke-width="5.5" stroke-linejoin="bevel" d="M398.85 1345.56L436.15 1345.56L436.15 1382.86L398.85 1382.86ZM460.33 1389.77L497.63 1389.77L497.63 1427.07L460.33 1427.07ZM521.81 1419.65L559.11 1419.65L559.11 1456.95L521.81 1456.95ZM583.29 1445.84L620.59 1445.84L620.59 1483.14L583.29 1483.14ZM644.77 1468.89L682.07 1468.89L682.07 1506.19L644.77 1506.19ZM706.25 1489.93L743.55 1489.93L743.55 1527.23L706.25 1527.23ZM767.73 1507.53L805.03 1507.53L805.03 1544.83L767.73 1544.83ZM829.21 1524.79L866.51 1524.79L866.51 1562.09L829.21 1562.09ZM890.69 1538.66L927.99 1538.66L927.99 1575.96L890.69 1575.96ZM952.17 1551.76L989.47 1551.76L989.47 1589.06L952.17 1589.06ZM1013.65 1562.84L1050.95 1562.84L1050.95 1600.14L1013.65 1600.14ZM1075.13 1571.57L1112.43 1571.57L1112.43 1608.87L1075.13 1608.87ZM1136.61 1579.5L1173.91 1579.5L1173.91 1616.8L1136.61 1616.8ZM1198.09 1585.09L1235.39 1585.09L1235.39 1622.39L1198.09 1622.39ZM1259.57 1589.68L1296.87 1589.68L1296.87 1626.98L1259.57 1626.98ZM1321.05 1592.92L1358.35 1592.92L1358.35 1630.22L1321.05 1630.22ZM1382.53 1594.6L1419.83 1594.6L1419.83 1631.9L1382.53 1631.9ZM1444.01 1595.5L1481.31 1595.5L1481.31 1632.8L1444.01 1632.8ZM1505.49 1595.16L1542.79 1595.16L1542.79 1632.46L1505.49 1632.46ZM1566.97 1592.7L1604.27 1592.7L1604.27 1630L1566.97 1630ZM1628.45 1588.78L1665.75 1588.78L1665.75 1626.08L1628.45 1626.08ZM1689.93 1584.53L1727.23 1584.53L1727.23 1621.83L1689.93 1621.83ZM1751.41 1578.93L1788.71 1578.93L1788.71 1616.23L1751.41 1616.23ZM1812.89 1570.76L1850.19 1570.76L1850.19 1608.06L1812.89 1608.06ZM1874.37 1561.65L1911.67 1561.65L1911.67 1598.95L1874.37 1598.95ZM1997.33 1539.77L2034.63 1539.77L2034.63 1577.07L1997.33 1577.07Z"/><path fill="none" stroke="#2830c0" stroke-width="8" stroke-linejoin="round" stroke-linecap="square" d="M417.5 2007.39L478.98 2054.35L540.46 2083.45L601.94 2108.52L663.42 2129.89L724.9 2149.37L786.38 2167.39L847.86 2183.28L909.34 2198.39L970.82 2210.36L1032.3 2221.33L1093.78 2229.95L1155.26 2237.56L1216.74 2243.38L1278.22 2247.86L1339.7 2251.55L1401.18 2253.23L1462.66 2253.56L1524.14 2252.67L1585.62 2250.77L1647.1 2247.97L1708.58 2242.82L1770.06 2236.78L1831.54 2228.83L1893.02 2218.81L2015.98 2195.13"/><g fill="#fff" stroke="#2830c0" stroke-width="5.5"><circle cx="417.5" cy="2007.39" r="18.65"/><circle cx="478.98" cy="2054.35" r="18.65"/><circle cx="540.46" cy="2083.45" r="18.65"/><circle cx="601.94" cy="2108.52" r="18.65"/><circle cx="663.42" cy="2129.89" r="18.65"/><circle cx="724.9" cy="2149.37" r="18.65"/><circle cx="786.38" cy="2167.39" r="18.65"/><circle cx="847.86" cy="2183.28" r="18.65"/><circle cx="909.34" cy="2198.39" r="18.65"/><circle cx="970.82" cy="2210.36" r="18.65"/><circle cx="1032.3" cy="2221.33" r="18.65"/><circle cx="1093.78" cy="2229.95" r="18.65"/><circle cx="1155.26" cy="2237.56" r="18.65"/><circle cx="1216.74" cy="2243.38" r="18.65"/><circle cx="1278.22" cy="2247.86" r="18.65"/><circle cx="1339.7" cy="2251.55" r="18.65"/><circle cx="1401.18" cy="2253.23" r="18.65"/><circle cx="1462.66" cy="2253.56" r="18.65"/><circle cx="1524.14" cy="2252.67" r="18.65"/><circle cx="1585.62" cy="2250.77" r="18.65"/><circle cx="1647.1" cy="2247.97" r="18.65"/><circle cx="1708.58" cy="2242.82" r="18.65"/><circle cx="1770.06" cy="2236.78" r="18.65"/><circle cx="1831.54" cy="2228.83" r="18.65"/><circle cx="1893.02" cy="2218.81" r="18.65"/><circle cx="2015.98" cy="2195.13" r="18.65"/></g><path fill="none" stroke="#2830c0" stroke-width="8" stroke-linejoin="round" stroke-linecap="square" d="M417.5 1920.15L478.98 1966.78L540.46 1996.88L601.94 2022.35L663.42 2044.74L724.9 2065.33L786.38 2083.66L847.86 2100.7L909.34 2114.8L970.82 2128.23L1032.3 2137.63L1093.78 2147.03L1155.26 2154.42L1216.74 2161.13L1278.22 2164.94L1339.7 2167.85L1401.18 2169.42L1462.66 2169.42L1524.14 2167.85L1585.62 2166.73L1647.1 2164.49L1708.58 2160.02L1770.06 2154.42L1831.54 2148.38L1893.02 2139.53L2015.98 2119.71"/><path fill="#fff" stroke="#2830c0" stroke-width="5.5" stroke-linejoin="bevel" d="M417.5 1893.77L433.33 1920.15L417.5 1946.52L401.67 1920.15ZM478.98 1940.4L494.81 1966.78L478.98 1993.15L463.15 1966.78ZM540.46 1970.51L556.29 1996.88L540.46 2023.26L524.63 1996.88ZM601.94 1995.98L617.77 2022.35L601.94 2048.73L586.11 2022.35ZM663.42 2018.36L679.25 2044.74L663.42 2071.11L647.59 2044.74ZM724.9 2038.96L740.73 2065.33L724.9 2091.71L709.07 2065.33ZM786.38 2057.29L802.21 2083.66L786.38 2110.04L770.55 2083.66ZM847.86 2074.32L863.69 2100.7L847.86 2127.07L832.03 2100.7ZM909.34 2088.43L925.17 2114.8L909.34 2141.18L893.51 2114.8ZM970.82 2101.86L986.65 2128.23L970.82 2154.61L954.99 2128.23ZM1032.3 2111.26L1048.13 2137.63L1032.3 2164.01L1016.47 2137.63ZM1093.78 2120.66L1109.61 2147.03L1093.78 2173.41L1077.95 2147.03ZM1155.26 2128.04L1171.09 2154.42L1155.26 2180.79L1139.43 2154.42ZM1216.74 2134.76L1232.57 2161.13L1216.74 2187.51L1200.91 2161.13ZM1278.22 2138.56L1294.05 2164.94L1278.22 2191.32L1262.39 2164.94ZM1339.7 2141.47L1355.53 2167.85L1339.7 2194.23L1323.87 2167.85ZM1401.18 2143.04L1417.01 2169.42L1401.18 2195.79L1385.35 2169.42ZM1462.66 2143.04L1478.49 2169.42L1462.66 2195.79L1446.83 2169.42ZM1524.14 2141.47L1539.97 2167.85L1524.14 2194.23L1508.31 2167.85ZM1585.62 2140.36L1601.45 2166.73L1585.62 2193.11L1569.79 2166.73ZM1647.1 2138.12L1662.93 2164.49L1647.1 2190.87L1631.27 2164.49ZM1708.58 2133.64L1724.41 2160.02L1708.58 2186.39L1692.75 2160.02ZM1770.06 2128.04L1785.89 2154.42L1770.06 2180.79L1754.23 2154.42ZM1831.54 2122L1847.37 2148.38L1831.54 2174.75L1815.71 2148.38ZM1893.02 2113.15L1908.85 2139.53L1893.02 2165.9L1877.19 2139.53ZM2015.98 2093.34L2031.81 2119.71L2015.98 2146.09L2000.15 2119.71Z"/><path fill="none" stroke="#2830c0" stroke-width="8" stroke-linejoin="round" stroke-linecap="square" d="M417.5 1901.4L478.98 1946.73L540.46 1974.15L601.94 1998.17L663.42 2019.29L724.9 2037.85L786.38 2053.84L847.86 2069.62L909.34 2082.54L970.82 2093.57L1032.3 2104.06L1093.78 2111.17L1155.26 2117.8L1216.74 2122.35L1278.22 2125.71L1339.7 2127.72L1401.18 2128.62L1462.66 2128.62L1524.14 2126.89L1585.62 2123.7L1647.1 2119.78L1708.58 2114.74L1770.06 2107.02L1831.54 2098.85L1893.02 2087.88L2015.98 2064.14"/><path fill="#fff" stroke="#2830c0" stroke-width="5.5" stroke-linejoin="bevel" d="M417.5 1882.75L436.15 1920.05L398.85 1920.05ZM478.98 1928.08L497.63 1965.38L460.33 1965.38ZM540.46 1955.5L559.11 1992.8L521.81 1992.8ZM601.94 1979.52L620.59 2016.82L583.29 2016.82ZM663.42 2000.64L682.07 2037.94L644.77 2037.94ZM724.9 2019.2L743.55 2056.5L706.25 2056.5ZM786.38 2035.19L805.03 2072.49L767.73 2072.49ZM847.86 2050.97L866.51 2088.27L829.21 2088.27ZM909.34 2063.89L927.99 2101.19L890.69 2101.19ZM970.82 2074.92L989.47 2112.22L952.17 2112.22ZM1032.3 2085.41L1050.95 2122.71L1013.65 2122.71ZM1093.78 2092.52L1112.43 2129.82L1075.13 2129.82ZM1155.26 2099.15L1173.91 2136.45L1136.61 2136.45ZM1216.74 2103.7L1235.39 2141L1198.09 2141ZM1278.22 2107.06L1296.87 2144.36L1259.57 2144.36ZM1339.7 2109.07L1358.35 2146.37L1321.05 2146.37ZM1401.18 2109.97L1419.83 2147.27L1382.53 2147.27ZM1462.66 2109.97L1481.31 2147.27L1444.01 2147.27ZM1524.14 2108.24L1542.79 2145.54L1505.49 2145.54ZM1585.62 2105.05L1604.27 2142.35L1566.97 2142.35ZM1647.1 2101.13L1665.75 2138.43L1628.45 2138.43ZM1708.58 2096.09L1727.23 2133.39L1689.93 2133.39ZM1770.06 2088.37L1788.71 2125.67L1751.41 2125.67ZM1831.54 2080.2L1850.19 2117.5L1812.89 2117.5ZM1893.02 2069.23L1911.67 2106.53L1874.37 2106.53ZM2015.98 2045.49L2034.63 2082.79L1997.33 2082.79Z"/><path fill="none" stroke="#2830c0" stroke-width="8" stroke-linejoin="round" stroke-linecap="square" d="M417.5 1651.93L478.98 1697.4L540.46 1729.31L601.94 1756.4L663.42 1780.57L724.9 1802.28L786.38 1821.3L847.86 1838.41L909.34 1853.52L970.82 1866.28L1032.3 1877.47L1093.78 1887.54L1155.26 1894.68L1216.74 1900.92L1278.22 1905.73L1339.7 1908.19L1401.18 1910.21L1462.66 1910.99L1524.14 1910.56L1585.62 1908.67L1647.1 1905.2L1708.58 1901.4L1770.06 1895.24L1831.54 1887.41L1893.02 1878.96L2015.98 1857.58"/><path fill="#fff" stroke="#2830c0" stroke-width="5.5" stroke-linejoin="bevel" d="M398.85 1633.28L436.15 1633.28L436.15 1670.58L398.85 1670.58ZM460.33 1678.75L497.63 1678.75L497.63 1716.05L460.33 1716.05ZM521.81 1710.66L559.11 1710.66L559.11 1747.96L521.81 1747.96ZM583.29 1737.75L620.59 1737.75L620.59 1775.05L583.29 1775.05ZM644.77 1761.92L682.07 1761.92L682.07 1799.22L644.77 1799.22ZM706.25 1783.63L743.55 1783.63L743.55 1820.93L706.25 1820.93ZM767.73 1802.65L805.03 1802.65L805.03 1839.95L767.73 1839.95ZM829.21 1819.76L866.51 1819.76L866.51 1857.06L829.21 1857.06ZM890.69 1834.87L927.99 1834.87L927.99 1872.17L890.69 1872.17ZM952.17 1847.63L989.47 1847.63L989.47 1884.93L952.17 1884.93ZM1013.65 1858.82L1050.95 1858.82L1050.95 1896.12L1013.65 1896.12ZM1075.13 1868.89L1112.43 1868.89L1112.43 1906.19L1075.13 1906.19ZM1136.61 1876.03L1173.91 1876.03L1173.91 1913.33L1136.61 1913.33ZM1198.09 1882.27L1235.39 1882.27L1235.39 1919.57L1198.09 1919.57ZM1259.57 1887.08L1296.87 1887.08L1296.87 1924.38L1259.57 1924.38ZM1321.05 1889.54L1358.35 1889.54L1358.35 1926.84L1321.05 1926.84ZM1382.53 1891.56L1419.83 1891.56L1419.83 1928.86L1382.53 1928.86ZM1444.01 1892.34L1481.31 1892.34L1481.31 1929.64L1444.01 1929.64ZM1505.49 1891.91L1542.79 1891.91L1542.79 1929.21L1505.49 1929.21ZM1566.97 1890.02L1604.27 1890.02L1604.27 1927.32L1566.97 1927.32ZM1628.45 1886.55L1665.75 1886.55L1665.75 1923.85L1628.45 1923.85ZM1689.93 1882.75L1727.23 1882.75L1727.23 1920.05L1689.93 1920.05ZM1751.41 1876.59L1788.71 1876.59L1788.71 1913.89L1751.41 1913.89ZM1812.89 1868.76L1850.19 1868.76L1850.19 1906.06L1812.89 1906.06ZM1874.37 1860.31L1911.67 1860.31L1911.67 1897.61L1874.37 1897.61ZM1997.33 1838.93L2034.63 1838.93L2034.63 1876.23L1997.33 1876.23Z"/><path fill="none" stroke="#2830c0" stroke-width="8" stroke-linejoin="round" stroke-linecap="square" d="M417.5 1454.12L478.98 1464.53L540.46 1472.82L601.94 1476.73L663.42 1478.75L724.9 1476.28L786.38 1472.64L847.86 1466.82L909.34 1458.87L970.82 1449.92L1032.3 1438.95L1093.78 1427.87L1155.26 1414.76L1216.74 1399.87L1278.22 1384.42L1339.7 1368.75L1401.18 1351.85L1462.66 1333.61L1524.14 1314.58L1585.62 1294.89L1647.1 1274.74L1708.58 1251.65L1770.06 1225.61L1831.54 1196.62L1893.02 1164.68L2015.98 1091.96"/><path fill="#fff" stroke="#2830c0" stroke-width="5.5" stroke-linejoin="bevel" d="M417.5 1435.47L399.76 1448.36L406.54 1469.21L428.46 1469.21L435.24 1448.36ZM478.98 1445.88L461.24 1458.77L468.02 1479.62L489.94 1479.62L496.72 1458.77ZM540.46 1454.17L522.72 1467.05L529.5 1487.9L551.42 1487.9L558.2 1467.05ZM601.94 1458.08L584.2 1470.97L590.98 1491.82L612.9 1491.82L619.68 1470.97ZM663.42 1460.1L645.68 1472.98L652.46 1493.83L674.38 1493.83L681.16 1472.98ZM724.9 1457.63L707.16 1470.52L713.94 1491.37L735.86 1491.37L742.64 1470.52ZM786.38 1453.99L768.64 1466.87L775.42 1487.72L797.34 1487.72L804.12 1466.87ZM847.86 1448.17L830.12 1461.05L836.9 1481.9L858.82 1481.9L865.6 1461.05ZM909.34 1440.22L891.6 1453.11L898.38 1473.96L920.3 1473.96L927.08 1453.11ZM970.82 1431.27L953.08 1444.15L959.86 1465L981.78 1465L988.56 1444.15ZM1032.3 1420.3L1014.56 1433.19L1021.34 1454.04L1043.26 1454.04L1050.04 1433.19ZM1093.78 1409.22L1076.04 1422.11L1082.82 1442.96L1104.74 1442.96L1111.52 1422.11ZM1155.26 1396.11L1137.52 1409L1144.3 1429.85L1166.22 1429.85L1173 1409ZM1216.74 1381.22L1199 1394.1L1205.78 1414.95L1227.7 1414.95L1234.48 1394.1ZM1278.22 1365.77L1260.48 1378.66L1267.26 1399.51L1289.18 1399.51L1295.96 1378.66ZM1339.7 1350.1L1321.96 1362.99L1328.74 1383.84L1350.66 1383.84L1357.44 1362.99ZM1401.18 1333.2L1383.44 1346.09L1390.22 1366.94L1412.14 1366.94L1418.92 1346.09ZM1462.66 1314.96L1444.92 1327.85L1451.7 1348.7L1473.62 1348.7L1480.4 1327.85ZM1524.14 1295.93L1506.4 1308.82L1513.18 1329.67L1535.1 1329.67L1541.88 1308.82ZM1585.62 1276.24L1567.88 1289.12L1574.66 1309.97L1596.58 1309.97L1603.36 1289.12ZM1647.1 1256.09L1629.36 1268.98L1636.14 1289.83L1658.06 1289.83L1664.84 1268.98ZM1708.58 1233L1690.84 1245.88L1697.62 1266.73L1719.54 1266.73L1726.32 1245.88ZM1770.06 1206.96L1752.32 1219.84L1759.1 1240.69L1781.02 1240.69L1787.8 1219.84ZM1831.54 1177.97L1813.8 1190.85L1820.58 1211.7L1842.5 1211.7L1849.28 1190.85ZM1893.02 1146.03L1875.28 1158.92L1882.06 1179.77L1903.98 1179.77L1910.76 1158.92ZM2015.98 1073.31L1998.24 1086.2L2005.02 1107.05L2026.94 1107.05L2033.72 1086.2Z"/></g><path stroke="#000" stroke-width="7" fill="none" d="M233.5 2333.5H209.5M233.5 2178.5H209.5M233.5 2023.5H209.5M233.5 1868.5H209.5M233.5 1712.5H209.5M233.5 1557.5H209.5M233.5 1402.5H209.5M233.5 1247.5H209.5M417.5 2390.5V2414.5M724.5 2390.5V2414.5M1032.5 2390.5V2414.5M1339.5 2390.5V2414.5M1647.5 2390.5V2414.5M1954.5 2390.5V2414.5M233.5 2390.5V2400.9M294.5 2390.5V2400.9M356.5 2390.5V2400.9M478.5 2390.5V2400.9M540.5 2390.5V2400.9M601.5 2390.5V2400.9M663.5 2390.5V2400.9M786.5 2390.5V2400.9M847.5 2390.5V2400.9M909.5 2390.5V2400.9M970.5 2390.5V2400.9M1093.5 2390.5V2400.9M1155.5 2390.5V2400.9M1216.5 2390.5V2400.9M1278.5 2390.5V2400.9M1401.5 2390.5V2400.9M1462.5 2390.5V2400.9M1524.5 2390.5V2400.9M1585.5 2390.5V2400.9M1708.5 2390.5V2400.9M1770.5 2390.5V2400.9M1831.5 2390.5V2400.9M1893.5 2390.5V2400.9M2015.5 2390.5V2400.9M2077.5 2390.5V2400.9M2138.5 2390.5V2400.9M2200.5 2390.5V2400.9"/><rect x="233.5" y="1247.5" width="1967" height="1143" fill="none" stroke="#000" stroke-width="7" stroke-linejoin="miter"/><g font-family="'DejaVu Sans', 'Liberation Sans', sans-serif" font-size="64.2" text-anchor="end" fill="#000"><text x="202.2" y="2357.6">0.0</text><text x="202.2" y="2202.35">0.5</text><text x="202.2" y="2047.1">1.0</text><text x="202.2" y="1891.85">1.5</text><text x="202.2" y="1736.6">2.0</text><text x="202.2" y="1581.35">2.5</text><text x="202.2" y="1426.1">3.0</text><text x="202.2" y="1270.85">3.5</text></g><text font-family="'DejaVu Sans', 'Liberation Sans', sans-serif" font-size="77.7" text-anchor="middle" transform="translate(75.8 1819) rotate(-90)">energy [eV]</text><g font-family="'DejaVu Sans', 'Liberation Sans', sans-serif" font-size="64.2" text-anchor="middle" fill="#000"><text x="417.5" y="2470.7">1.9</text><text x="724.9" y="2470.7">2.0</text><text x="1032.3" y="2470.7">2.1</text><text x="1339.7" y="2470.7">2.2</text><text x="1647.1" y="2470.7">2.3</text><text x="1954.5" y="2470.7">2.4</text></g><text font-family="'DejaVu Sans', 'Liberation Sans', sans-serif" font-size="77.7" text-anchor="middle" x="1217" y="2559.7">Ni-N distance [Å]</text><text font-family="'DejaVu Sans', 'Liberation Sans', sans-serif" font-size="64" x="1845.1" y="157.9">[Ni(L<tspan font-size="44.8" dx="0.3" dy="-24.5">Ph</tspan><tspan dx="1" dy="24.5">)Cl]</tspan></text><text font-family="'DejaVu Sans', 'Liberation Sans', sans-serif" font-size="64" x="1845.1" y="1357.9">[Ni(L<tspan font-size="44.8" dx="0.3" dy="-24.5">Bn</tspan><tspan dx="1" dy="24.5">)Cl]</tspan></text><g><path fill="none" stroke="#ff8000" stroke-width="8" d="M272.2 304H373.8"/><path fill="#fff" stroke="#ff8000" stroke-width="5.5" stroke-linejoin="bevel" d="M316.38 285.35L328.82 285.35L328.82 297.78L341.25 297.78L341.25 310.22L328.82 310.22L328.82 322.65L316.38 322.65L316.38 310.22L303.95 310.22L303.95 297.78L316.38 297.78Z"/><text x="406.9" y="321" font-family="'DejaVu Sans', 'Liberation Sans', sans-serif" font-size="48">S0</text><path fill="none" stroke="#ff8000" stroke-width="8" d="M272.2 373H373.8"/><g fill="#fff" stroke="#ff8000" stroke-width="5.5"><circle cx="322.6" cy="373" r="18.65"/></g><text x="406.9" y="390" font-family="'DejaVu Sans', 'Liberation Sans', sans-serif" font-size="48">S1</text><path fill="none" stroke="#ff8000" stroke-width="8" d="M272.2 442H373.8"/><path fill="#fff" stroke="#ff8000" stroke-width="5.5" stroke-linejoin="bevel" d="M322.6 415.62L338.43 442L322.6 468.38L306.77 442Z"/><text x="406.9" y="459" font-family="'DejaVu Sans', 'Liberation Sans', sans-serif" font-size="48">S2</text><path fill="none" stroke="#ff8000" stroke-width="8" d="M272.2 511H373.8"/><path fill="#fff" stroke="#ff8000" stroke-width="5.5" stroke-linejoin="bevel" d="M322.6 492.35L341.25 529.65L303.95 529.65Z"/><text x="406.9" y="528" font-family="'DejaVu Sans', 'Liberation Sans', sans-serif" font-size="48">S3</text><path fill="none" stroke="#ff8000" stroke-width="8" d="M272.2 580H373.8"/><path fill="#fff" stroke="#ff8000" stroke-width="5.5" stroke-linejoin="bevel" d="M303.95 561.35L341.25 561.35L341.25 598.65L303.95 598.65Z"/><text x="406.9" y="597" font-family="'DejaVu Sans', 'Liberation Sans', sans-serif" font-size="48">S4</text><path fill="none" stroke="#2830c0" stroke-width="8" d="M272.2 649H373.8"/><g fill="#fff" stroke="#2830c0" stroke-width="5.5"><circle cx="322.6" cy="649" r="18.65"/></g><text x="406.9" y="666" font-family="'DejaVu Sans', 'Liberation Sans', sans-serif" font-size="48">T1</text><path fill="none" stroke="#2830c0" stroke-width="8" d="M272.2 718H373.8"/><path fill="#fff" stroke="#2830c0" stroke-width="5.5" stroke-linejoin="bevel" d="M322.6 691.62L338.43 718L322.6 744.38L306.77 718Z"/><text x="406.9" y="735" font-family="'DejaVu Sans', 'Liberation Sans', sans-serif" font-size="48">T2</text><path fill="none" stroke="#2830c0" stroke-width="8" d="M272.2 787H373.8"/><path fill="#fff" stroke="#2830c0" stroke-width="5.5" stroke-linejoin="bevel" d="M322.6 768.35L341.25 805.65L303.95 805.65Z"/><text x="406.9" y="804" font-family="'DejaVu Sans', 'Liberation Sans', sans-serif" font-size="48">T3</text><path fill="none" stroke="#2830c0" stroke-width="8" d="M272.2 856H373.8"/><path fill="#fff" stroke="#2830c0" stroke-width="5.5" stroke-linejoin="bevel" d="M303.95 837.35L341.25 837.35L341.25 874.65L303.95 874.65Z"/><text x="406.9" y="873" font-family="'DejaVu Sans', 'Liberation Sans', sans-serif" font-size="48">T4</text><path fill="none" stroke="#2830c0" stroke-width="8" d="M272.2 925H373.8"/><path fill="#fff" stroke="#2830c0" stroke-width="5.5" stroke-linejoin="bevel" d="M322.6 906.35L304.86 919.24L311.64 940.09L333.56 940.09L340.34 919.24Z"/><text x="406.9" y="942" font-family="'DejaVu Sans', 'Liberation Sans', sans-serif" font-size="48">T5</text></g></svg></body></html>
